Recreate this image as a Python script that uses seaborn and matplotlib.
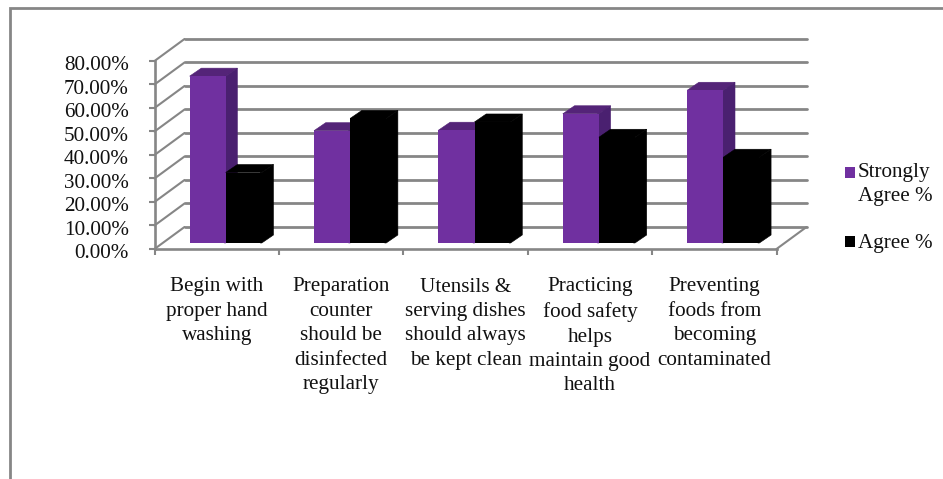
import matplotlib
matplotlib.use("Agg")
import matplotlib.pyplot as plt
import numpy as np
import pandas as pd
import seaborn as sns
from matplotlib.lines import Line2D
from matplotlib.patches import Polygon, Rectangle
from matplotlib.transforms import Affine2D

categories = [
    "Begin with\nproper hand\nwashing",
    "Preparation\ncounter\nshould be\ndisinfected\nregularly",
    "Utensils &\nserving dishes\nshould always\nbe kept clean",
    "Practicing\nfood safety\nhelps\nmaintain good\nhealth",
    "Preventing\nfoods from\nbecoming\ncontaminated",
]
strongly_agree = [71.0, 47.8, 48.0, 55.0, 65.0]
agree = [30.0, 53.0, 51.5, 45.0, 36.5]
series_names = ["Strongly Agree %", "Agree %"]
y_ticks = [0, 10, 20, 30, 40, 50, 60, 70, 80]

PURPLE = "#7030A0"
PURPLE_TOP = "#542478"
PURPLE_SIDE = "#4A2070"
GRID = "#868686"
TEXT = "#111111"
FONT_SIZE = 15.2
W, H = 943, 479

sns.set_theme(style="white")
plt.rcParams["font.family"] = ["Liberation Serif", "DejaVu Serif"]

fig = plt.figure(figsize=(W / 100, H / 100), dpi=100, facecolor="white")


def axes_from_pixels(left, top, right, bottom):
    return fig.add_axes([left / W, 1 - bottom / H, (right - left) / W, (bottom - top) / H])


# Front plane of the floor: the value and category axes live here.
ax = axes_from_pixels(154.5, 61, 776.5, 249)
ax.set_xlim(-0.5, 4.5)
ax.set_ylim(0, 80)
ax.patch.set_alpha(0)
sns.despine(ax=ax, top=True, right=True)
for side in ("left", "bottom"):
    ax.spines[side].set_color(GRID)
    ax.spines[side].set_linewidth(1.9)

units_x = 5 / 622
units_y = 80 / 188
wall_dx, wall_dy = 30 * units_x, 22 * units_y
depth_dx, depth_dy = 11.7 * units_x, 8 * units_y

# Back wall gridlines with the receding strokes on the left side.
for level in y_ticks:
    ax.add_line(Line2D([-0.5, -0.5 + wall_dx], [level, level + wall_dy],
                       color=GRID, lw=1.5, clip_on=False, zorder=1))
    ax.add_line(Line2D([-0.5 + wall_dx, 4.5 + wall_dx], [level + wall_dy] * 2,
                       color=GRID, lw=2.0, clip_on=False, zorder=1))
ax.add_line(Line2D([4.5, 4.5 + wall_dx], [0, wall_dy], color=GRID, lw=1.5,
                   clip_on=False, zorder=1))

ax.set_yticks(y_ticks)
ax.set_yticklabels([f"{v:.2f}%" for v in y_ticks], fontsize=FONT_SIZE, color=TEXT)
ax.set_xticks(np.arange(-0.5, 5.0, 1.0))
ax.set_xticklabels([])
ax.tick_params(axis="both", length=4.5, width=1.5, color=GRID, pad=14, left=True, bottom=True)
for tick_label in ax.get_yticklabels():
    tick_label.set_transform(tick_label.get_transform() + Affine2D().translate(0, -2.5))

for pos, label in enumerate(categories):
    ax.annotate(label, xy=(pos, 0), xycoords="data", xytext=(0, -28.5),
                textcoords="offset pixels", ha="center", va="top", fontsize=FONT_SIZE,
                linespacing=1.385, color=TEXT, annotation_clip=False)

# Bars stand slightly behind the floor's front edge.
bar_ax = axes_from_pixels(154.5 + 9, 61 - 6, 776.5 + 9, 249 - 6)
bar_ax.patch.set_alpha(0)
frame = pd.DataFrame({
    "category": categories * 2,
    "series": np.repeat(series_names, len(categories)),
    "value": strongly_agree + agree,
})
sns.barplot(data=frame, x="category", y="value", hue="series", order=categories,
            hue_order=series_names, palette=[PURPLE, "black"], width=0.58, gap=0,
            saturation=1, legend=False, ax=bar_ax, linewidth=0, edgecolor="none")
bar_ax.set_xlim(-0.5, 4.5)
bar_ax.set_ylim(0, 80)
bar_ax.axis("off")

# Extrude every bar: purple's top and side first, then black in front of them.
for container, top_color, side_color, order in zip(
        bar_ax.containers, [PURPLE_TOP, "black"], [PURPLE_SIDE, "black"], [2, 5]):
    for bar in container:
        x0, w, h = bar.get_x(), bar.get_width(), bar.get_height()
        x1 = x0 + w
        bar_ax.add_patch(Polygon(
            [(x0, h), (x1, h), (x1 + depth_dx, h + depth_dy), (x0 + depth_dx, h + depth_dy)],
            closed=True, fc=top_color, ec=top_color, lw=0.4, zorder=order, clip_on=False))
        bar_ax.add_patch(Polygon(
            [(x1 - 0.012, 0), (x1, 0), (x1 + depth_dx, depth_dy), (x1 + depth_dx, h + depth_dy),
             (x1, h), (x1 - 0.012, h)],
            closed=True, fc=side_color, ec=side_color, lw=0.4, zorder=order, clip_on=False))
        bar.set_zorder(order + 1)
        bar.set_clip_on(False)

# Legend and chart frame are placed in figure pixels.
overlay = fig.add_axes([0, 0, 1, 1])
overlay.set_xlim(0, W)
overlay.set_ylim(H, 0)
overlay.axis("off")
overlay.patch.set_alpha(0)
overlay.add_line(Line2D([9.5, 9.5, W], [H, 7.5, 7.5], color=GRID, lw=2.0,
                        solid_joinstyle="miter"))
overlay.add_patch(Rectangle((844.5, 167), 10.5, 10.5, fc=PURPLE, ec="none"))
overlay.add_patch(Rectangle((844.5, 236), 10.5, 10.5, fc="black", ec="none"))
overlay.text(858, 173, "Strongly", fontsize=FONT_SIZE, va="center", ha="left", color=TEXT)
overlay.text(858, 197, "Agree %", fontsize=FONT_SIZE, va="center", ha="left", color=TEXT)
overlay.text(858, 243, "Agree %", fontsize=FONT_SIZE, va="center", ha="left", color=TEXT)

fig.savefig("out.png", dpi=100, facecolor="white")
